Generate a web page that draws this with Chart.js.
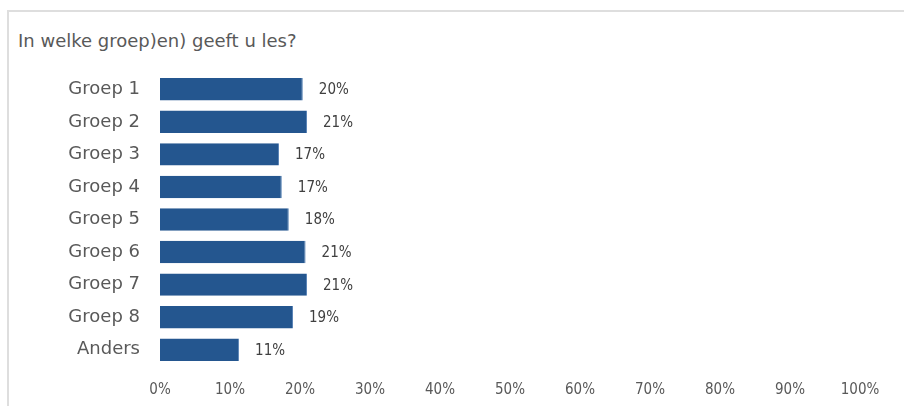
<!DOCTYPE html>
<html>
<head>
<meta charset="utf-8">
<script src="https://cdn.jsdelivr.net/npm/chart.js@4"></script>
<style>
  html, body { margin: 0; padding: 0; background: #fff; }
  body { width: 904px; height: 406px; position: relative; overflow: hidden; }
  #frame { position: absolute; left: 7px; top: 10px; width: 910px; height: 410px;
           border-left: 2px solid #dedede; border-top: 2px solid #dedede; }
  #title { position: absolute; left: 18px; top: 30px; font: 18px "DejaVu Sans", sans-serif; color: #595959; }
  #wrap { position: absolute; left: 0; top: 0; width: 904px; height: 406px; }
</style>
</head>
<body>
<div id="frame"></div>
<div id="title">In welke groep)en) geeft u les?</div>
<div id="wrap"><canvas id="myChart" width="904" height="406"></canvas></div>
<script>
// values
var categories = ['Groep 1', 'Groep 2', 'Groep 3', 'Groep 4', 'Groep 5', 'Groep 6', 'Groep 7', 'Groep 8', 'Anders']
var values = [20.4, 21.0, 17.0, 17.4, 18.4, 20.8, 21.0, 19.0, 11.3]
var shown = ['20%', '21%', '17%', '17%', '18%', '21%', '21%', '19%', '11%']
var tickLabels = ['0%', '10%', '20%', '30%', '40%', '50%', '60%', '70%', '80%', '90%', '100%']

var numFont = '"Liberation Sans Narrow", "DejaVu Sans Condensed", sans-serif'

// draws the percentage next to each bar
var barLabels = {
    id: 'barLabels',
    afterDatasetsDraw: function(chart){
        var ctx = chart.ctx
        var meta = chart.getDatasetMeta(0)
        ctx.save()
        ctx.font = '15px ' + numFont
        ctx.fillStyle = '#404040'
        ctx.textBaseline = 'middle'
        ctx.textAlign = 'left'
        meta.data.forEach(function(bar, i){
            ctx.fillText(shown[i], bar.x + 16, bar.y + 1)
        })
        ctx.restore()
    }
}

new Chart(document.getElementById('myChart'), {
    type: 'bar',
    data: {
        labels: categories,
        datasets: [{
            data: values,
            backgroundColor: '#24568f',
            borderColor: '#5b84b6',
            borderWidth: { right: 1, top: 0, bottom: 0, left: 0 },
            borderSkipped: 'left',
            barPercentage: 0.69,
            categoryPercentage: 1
        }]
    },
    options: {
        indexAxis: 'y',
        responsive: false,
        animation: false,
        devicePixelRatio: 1,
        layout: { padding: { top: 73, right: 44, left: 0, bottom: 0 } },
        plugins: { legend: { display: false }, tooltip: { enabled: false } },
        scales: {
            x: {
                min: 0, max: 100,
                grid: { display: false, drawTicks: false },
                border: { display: false },
                afterFit: function(scale){ scale.height = 40 },
                afterBuildTicks: function(scale){
                    scale.ticks = tickLabels.map(function(t, i){ return { value: i * 10 } })
                },
                ticks: {
                    padding: 15,
                    maxRotation: 0,
                    autoSkip: false,
                    color: '#595959',
                    font: { family: numFont, size: 15 },
                    callback: function(v, i){ return tickLabels[i] }
                }
            },
            y: {
                grid: { display: false, drawTicks: false },
                border: { display: false },
                afterFit: function(scale){ scale.width = 160 },
                ticks: {
                    padding: 20,
                    color: '#595959',
                    font: { family: '"DejaVu Sans", sans-serif', size: 18 }
                }
            }
        }
    },
    plugins: [barLabels]
})
</script>
</body>
</html>
